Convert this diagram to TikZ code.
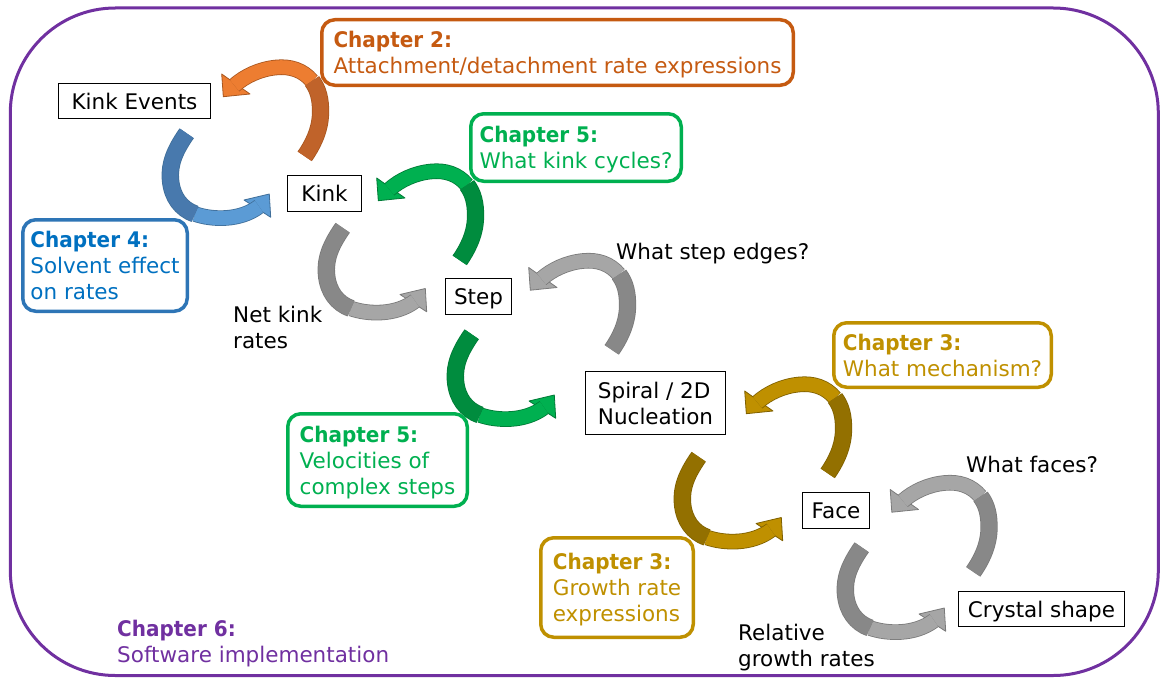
\documentclass[tikz,border=0pt]{standalone}
\usepackage{fontspec}
\setmainfont{DejaVu Sans}
\newfontfamily\chapfam{DejaVu Sans}[FakeStretch=0.93]
\usetikzlibrary{calc}
\definecolor{frame}{HTML}{7030A0}
\definecolor{cOrange}{HTML}{C55A11}
\definecolor{cGreen}{HTML}{00B050}
\definecolor{cBlueB}{HTML}{2E75B6}
\definecolor{cBlueT}{HTML}{0070C0}
\definecolor{cGold}{HTML}{BF9000}
% arrow colours
\definecolor{aBLt}{HTML}{5B9BD5}\definecolor{aBDk}{HTML}{4879AD}\definecolor{aBOl}{HTML}{3F6E99}
\definecolor{aOLt}{HTML}{ED7D31}\definecolor{aODk}{HTML}{C0632A}\definecolor{aOOl}{HTML}{A8561F}
\definecolor{aGLt}{HTML}{00B050}\definecolor{aGDk}{HTML}{008C3E}\definecolor{aGOl}{HTML}{007A36}
\definecolor{aKLt}{HTML}{A6A6A6}\definecolor{aKDk}{HTML}{888888}\definecolor{aKOl}{HTML}{7A7A7A}
\definecolor{aYLt}{HTML}{BF9000}\definecolor{aYDk}{HTML}{937000}\definecolor{aYOl}{HTML}{7F6000}

% curved ribbon arrow going down-left then right (tail dark, head light)
\newcommand{\ribbondown}[4]{%
\begin{scope}[shift={(#2,#3)}]
\coordinate (#1t) at (186.7,133.3);
\coordinate (#1m) at (195,214);
\coordinate (#1e) at (259,206.5);
\coordinate (#1p) at (269.3,194);
\coordinate (#1a) at (244,200);
\coordinate (#1b) at (270.7,217.3);
\filldraw[fill=#4Lt, draw=#4Ol, line width=0.8, line join=round] (#1a) -- (#1p) -- (#1b) -- cycle;
\draw[#4Ol, line width=15.6] (#1m) .. controls (212,220) and (240,221) .. (#1e);
\draw[#4Lt, line width=14] (#1m) .. controls (212,220) and (240,221) .. (#1e);
\draw[#4Ol, line width=17.4] (#1t) .. controls (175,150) and (169,164) .. (170.5,180) .. controls (172,197) and (181,209) .. (#1m);
\draw[#4Dk, line width=15.8] (#1t) .. controls (175,150) and (169,164) .. (170.5,180) .. controls (172,197) and (181,209) .. (#1m);
\end{scope}}

% curved ribbon arrow going up-right then left (tail dark, head light)
\newcommand{\ribbonup}[4]{%
\begin{scope}[shift={(#2,#3)}]
\coordinate (#1t) at (304.7,156.3);
\coordinate (#1m) at (312,81);
\coordinate (#1e) at (234.4,85.4);
\coordinate (#1p) at (223.3,96.7);
\coordinate (#1a) at (221.7,74);
\coordinate (#1b) at (250,94);
\filldraw[fill=#4Lt, draw=#4Ol, line width=0.8, line join=round] (#1a) -- (#1p) -- (#1b) -- cycle;
\draw[#4Ol, line width=15.6] (#1m) .. controls (303,70) and (290,66) .. (276,67.5) .. controls (260,69) and (245,76) .. (#1e);
\draw[#4Lt, line width=14] (#1m) .. controls (303,70) and (290,66) .. (276,67.5) .. controls (260,69) and (245,76) .. (#1e);
\draw[#4Ol, line width=17.2] (#1t) .. controls (312,146) and (320,131) .. (320.5,114) .. controls (321,99) and (318,89) .. (#1m);
\draw[#4Dk, line width=15.6] (#1t) .. controls (312,146) and (320,131) .. (320.5,114) .. controls (321,99) and (318,89) .. (#1m);
\end{scope}}

\begin{document}
\begin{tikzpicture}[x=1pt,y=-1pt,
  every node/.style={font=\fontsize{21.5}{26}\selectfont},
  plainbox/.style={draw=black, line width=1.3, fill=white, inner sep=0, text depth=0pt, align=center},
  chbox/.style={line width=3.5, rounded corners=13, align=left, inner xsep=5, inner ysep=0, text depth=0pt},
  lbl/.style={inner sep=0, align=left, anchor=base west}]
\useasboundingbox (0,0) rectangle (1161,677);
\draw[frame, line width=3, rounded corners=105] (10.3,8) rectangle (1158.3,675.5);

% curved arrows
\ribbondown{kd}{0}{0}{aB}
\ribbonup{ku}{0}{0}{aO}
\ribbondown{sd}{156}{94.5}{aK}
\ribbonup{su}{155}{104}{aG}
\ribbondown{pd}{285}{201}{aG}
\ribbonup{pu}{307}{193.5}{aK}
\ribbondown{fd}{512}{323.5}{aY}
\ribbonup{fu}{523}{317}{aY}
\ribbondown{cd}{675}{414}{aK}
\ribbonup{cu}{668.5}{415.5}{aK}

% main boxes
\node[plainbox, minimum width=152, minimum height=35] (ke) at (134.5,101) {Kink Events};
\node[plainbox, minimum width=74, minimum height=36] (kink) at (324.5,193.5) {Kink};
\node[plainbox, minimum width=66, minimum height=36] (step) at (478.5,296.5) {Step};
\node[plainbox, minimum width=140, minimum height=63, align=left, text depth=] (spiral) at (655.5,403) {Spiral / 2D\\Nucleation};
\node[plainbox, minimum width=67, minimum height=36] (face) at (836,510.5) {Face};
\node[plainbox, minimum width=166, minimum height=35] (crystal) at (1041.5,609) {Crystal shape};

% chapter boxes
\node[chbox, draw=cOrange, text=cOrange, minimum width=471.5, minimum height=65.5] (ch2) at (557.5,52.5) {{\chapfam\bfseries Chapter 2:}\\Attachment/detachment rate expressions};
\node[chbox, draw=cGreen, text=cGreen, minimum width=210.5, minimum height=67.5] (ch5a) at (576,147.5) {{\chapfam\bfseries Chapter 5:}\\What kink cycles?};
\node[chbox, draw=cBlueB, text=cBlueT, minimum width=164.5, minimum height=91.5] (ch4) at (105,265.5) {{\chapfam\bfseries Chapter 4:}\\Solvent effect\\on rates};
\node[chbox, draw=cGreen, text=cGreen, minimum width=179.5, minimum height=92.5] (ch5b) at (377.5,460) {{\chapfam\bfseries Chapter 5:}\\Velocities of\\complex steps};
\node[chbox, draw=cGold, text=cGold, minimum width=217.5, minimum height=64.5] (ch3a) at (942.5,355) {{\chapfam\bfseries Chapter 3:}\\What mechanism?};
\node[chbox, draw=cGold, text=cGold, minimum width=152.5, minimum height=99.5] (ch3b) at (617,587.5) {{\chapfam\bfseries Chapter 3:}\\Growth rate\\expressions};

% plain labels (base = baseline of the last line)
\node[lbl] (wse) at (616,259) {What step edges?};
\node[lbl] (nkr) at (233,348) {Net kink\\rates};
\node[lbl] (wf) at (966,472) {What faces?};
\node[lbl] (rgr) at (738,666) {Relative\\growth rates};
\node[lbl, text=frame] (ch6) at (117,662) {{\chapfam\bfseries Chapter 6:}\\Software implementation};
\end{tikzpicture}
\end{document}
